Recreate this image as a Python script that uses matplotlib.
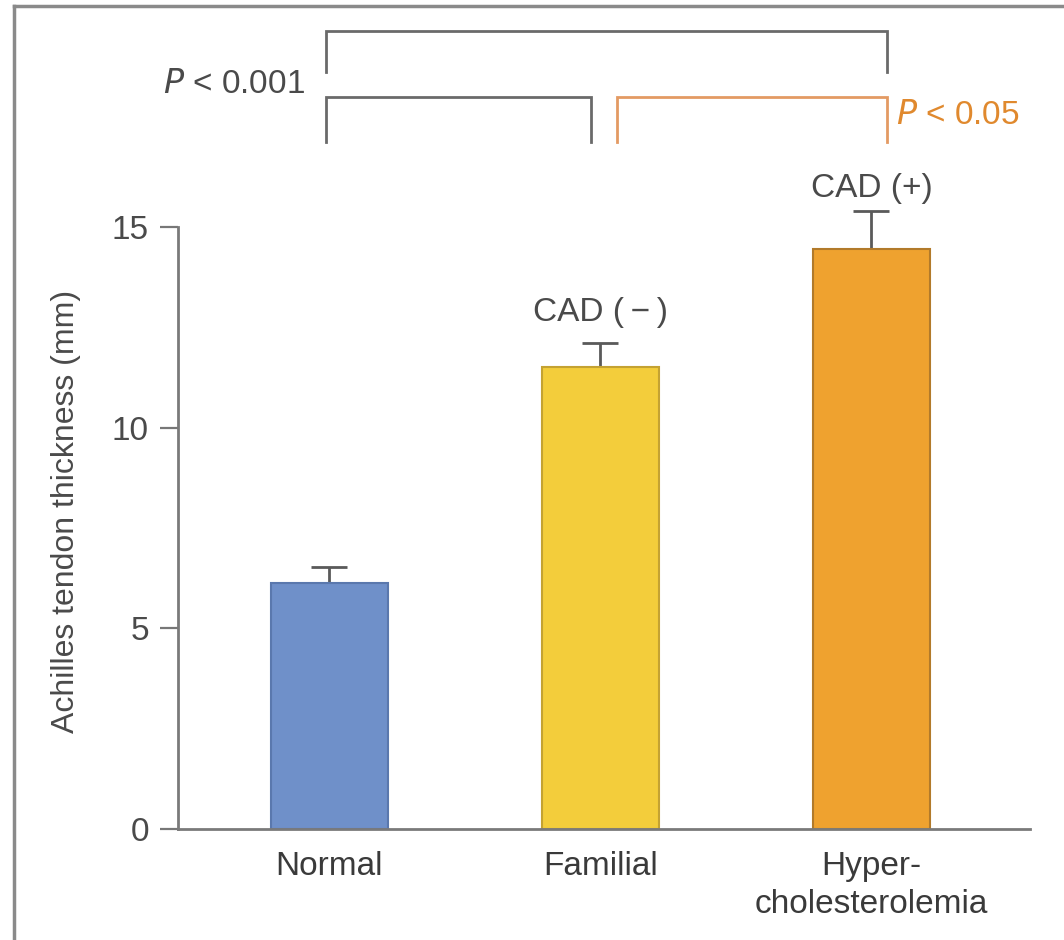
import matplotlib.pyplot as plt

plt.rcParams['font.family'] = ['Liberation Sans', 'DejaVu Sans']

# data
groups = ['Normal', 'Familial', 'Hyper-\ncholesterolemia']
means = [6.13, 11.51, 14.45]
sem = [0.40, 0.60, 0.95]
bar_colors = ['#6f90c9', '#f3cd3b', '#efa22f']
edge_colors = ['#5a78ad', '#c4a232', '#b27a2a']
cad_labels = ['', 'CAD (\u2009\u2212\u2009)', 'CAD (+)']
yticks = [0, 5, 10, 15]

fig = plt.figure(figsize=(10.64, 9.40), dpi=100)
ax = fig.add_axes([178 / 1064, 111 / 940, 852 / 1064, 602 / 940])

x = list(range(len(groups)))
ax.bar(x, means, width=0.43, color=bar_colors, edgecolor=edge_colors, linewidth=1.5, zorder=2)
eb = ax.errorbar(x, means, yerr=[[0] * 3, sem], fmt='none', ecolor='#5a5a5a',
                 elinewidth=2, capsize=13, capthick=2, zorder=1)
for art in eb.lines[1] + eb.lines[2]:
    art.set_clip_on(False)

ax.set_xlim(-0.559, 2.585)
ax.set_ylim(0, 15)
ax.set_yticks(yticks)
ax.set_xticks(x)
ax.set_xticklabels(groups, color='#3a3a3a', fontsize=24, linespacing=1.3)
ax.tick_params(axis='x', length=0, pad=16)
ax.tick_params(axis='y', length=13, width=1.6, color='#777777', pad=8,
               labelsize=24, labelcolor='#4a4a4a')

for s in ['top', 'right']:
    ax.spines[s].set_visible(False)
for s in ['left', 'bottom']:
    ax.spines[s].set_color('#7a7a7a')
    ax.spines[s].set_linewidth(2)

ax.set_ylabel('Achilles tendon thickness (mm)', fontsize=23, color='#4a4a4a', labelpad=22)
ax.yaxis.label.set_y(0.527)

# CAD labels above error bars
cad_y = [0, 12.86, 15.97]
for i, lab in enumerate(cad_labels):
    if lab:
        ax.text(x[i], cad_y[i], lab, ha='center', va='center', fontsize=24,
                color='#4a4a4a', clip_on=False)

# significance brackets
def bracket(x0, x1, ytop, ybot, color):
    ax.plot([x0, x0, x1, x1], [ybot, ytop, ytop, ybot], color=color, lw=2,
            clip_on=False, solid_joinstyle='miter')

bracket(-0.013, 2.057, 19.88, 18.86, '#6a6a6a')
bracket(-0.013, 0.965, 18.24, 17.12, '#6a6a6a')
bracket(1.061, 2.057, 18.24, 17.12, '#e39a63')
ax.text(-0.09, 18.54, '$P$ < 0.001', ha='right', va='center', fontsize=24,
        color='#4a4a4a', clip_on=False)
ax.text(2.09, 17.79, '$P$ < 0.05', ha='left', va='center', fontsize=24,
        color='#e0892e', clip_on=False)

# scanned page border
fig.add_artist(plt.Line2D([14 / 1064, 14 / 1064], [0, 934 / 940], color='#8a8a8a', lw=2.5))
fig.add_artist(plt.Line2D([14 / 1064, 1], [934 / 940, 934 / 940], color='#8a8a8a', lw=2.5))

fig.savefig('out.png', dpi=100)
